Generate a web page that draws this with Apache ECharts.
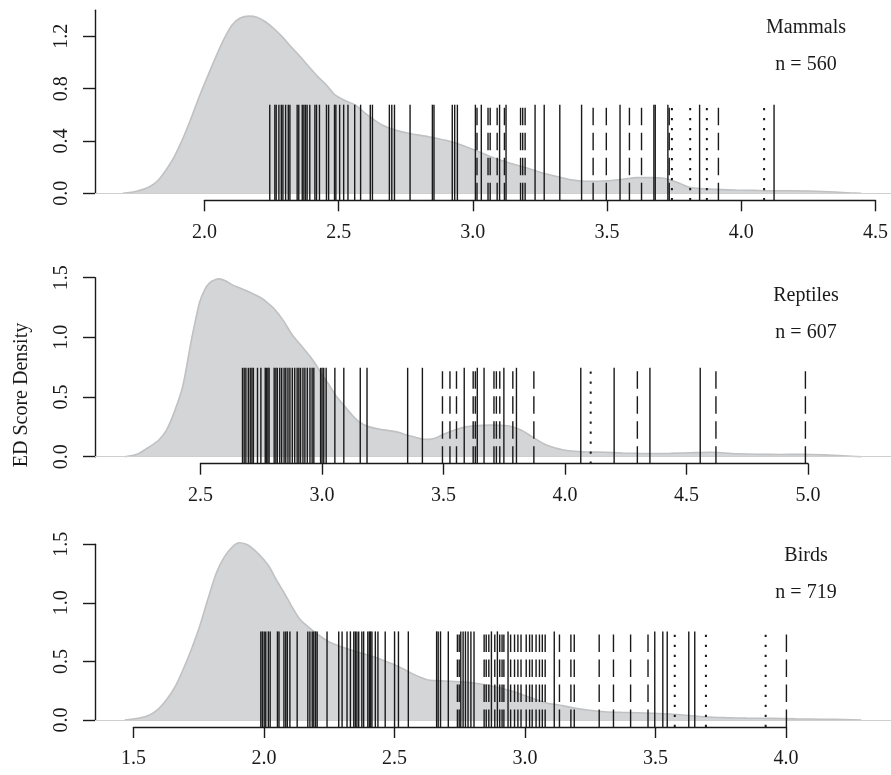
<!DOCTYPE html>
<html><head><meta charset="utf-8">
<script src="https://cdn.jsdelivr.net/npm/echarts@6/dist/echarts.min.js"></script>
<style>html,body{margin:0;padding:0;background:#fff}#c{width:891px;height:775px}</style>
</head><body><div id="c"></div>
<script>
// ---------------- DATA ----------------
const groupNames = ['Mammals', 'Reptiles', 'Birds'];
const groupCounts = ['n = 560', 'n = 607', 'n = 719'];

// density curves (ED score, density)
const mammalDensX = [1.698,1.75,1.798,1.83,1.86,1.89,1.92,1.95,1.983,2.015,2.045,2.075,2.105,2.135,2.168,2.2,2.23,2.26,2.29,2.32,2.353,2.39,2.42,2.455,2.489,2.525,2.563,2.595,2.625,2.665,2.711,2.77,2.835,2.9,2.958,3.02,3.081,3.14,3.205,3.26,3.316,3.36,3.402,3.45,3.489,3.55,3.612,3.66,3.711,3.76,3.8,3.834,3.9,3.982,4.05,4.104,4.18,4.25,4.35,4.4,4.445];
const mammalDensY = [0,0.015,0.05,0.1,0.18,0.28,0.41,0.56,0.74,0.9,1.045,1.18,1.287,1.34,1.355,1.345,1.31,1.26,1.2,1.13,1.057,0.97,0.9,0.83,0.75,0.71,0.675,0.62,0.573,0.52,0.484,0.455,0.433,0.405,0.369,0.32,0.268,0.23,0.191,0.155,0.127,0.105,0.094,0.092,0.094,0.105,0.12,0.12,0.115,0.084,0.05,0.038,0.03,0.025,0.022,0.02,0.02,0.018,0.01,0.004,0];

const reptileDensX = [2.189,2.24,2.292,2.33,2.361,2.395,2.429,2.464,2.498,2.52,2.539,2.56,2.58,2.605,2.634,2.67,2.704,2.745,2.78,2.807,2.845,2.882,2.915,2.951,2.98,3.005,3.035,3.06,3.095,3.129,3.16,3.197,3.25,3.307,3.36,3.417,3.445,3.472,3.51,3.554,3.6,3.637,3.7,3.774,3.8,3.828,3.856,3.884,3.93,3.966,4.0,4.034,4.1,4.172,4.25,4.309,4.38,4.446,4.53,4.61,4.66,4.72,4.8,4.9,4.995,5.08,5.16,5.235];
const reptileDensY = [0,0.02,0.084,0.14,0.22,0.38,0.59,0.97,1.29,1.4,1.455,1.48,1.49,1.475,1.44,1.41,1.38,1.34,1.29,1.24,1.14,1.02,0.94,0.852,0.77,0.685,0.6,0.517,0.43,0.35,0.29,0.252,0.228,0.21,0.18,0.148,0.145,0.154,0.19,0.224,0.25,0.26,0.265,0.26,0.245,0.224,0.19,0.154,0.1,0.075,0.058,0.048,0.04,0.037,0.031,0.028,0.027,0.028,0.033,0.037,0.033,0.025,0.02,0.019,0.02,0.015,0.008,0];

const birdDensX = [1.467,1.52,1.563,1.595,1.627,1.66,1.691,1.723,1.755,1.787,1.819,1.85,1.882,1.908,1.935,1.959,1.99,2.023,2.05,2.08,2.11,2.144,2.189,2.22,2.253,2.317,2.38,2.444,2.508,2.54,2.572,2.605,2.636,2.7,2.764,2.83,2.892,2.96,3.019,3.057,3.1,3.134,3.185,3.25,3.313,3.38,3.44,3.5,3.568,3.63,3.696,3.78,3.86,3.951,4.05,4.15,4.24,4.303];
const birdDensY = [0,0.015,0.043,0.09,0.17,0.28,0.427,0.6,0.796,1.03,1.25,1.39,1.479,1.513,1.5,1.465,1.4,1.31,1.2,1.09,0.97,0.853,0.768,0.715,0.668,0.612,0.569,0.526,0.469,0.435,0.398,0.365,0.341,0.333,0.327,0.31,0.284,0.245,0.199,0.17,0.14,0.13,0.108,0.085,0.071,0.065,0.062,0.058,0.051,0.04,0.028,0.02,0.016,0.014,0.01,0.007,0.003,0];

// rug values (ED scores) by line type
const mammalSolid = [2.245,2.264,2.269,2.279,2.288,2.294,2.304,2.314,2.32,2.347,2.353,2.366,2.372,2.378,2.384,2.394,2.413,2.419,2.43,2.456,2.464,2.486,2.491,2.505,2.52,2.536,2.561,2.583,2.619,2.627,2.69,2.699,2.709,2.767,2.85,2.856,2.924,2.933,2.943,3.01,3.032,3.1,3.124,3.232,3.266,3.324,3.405,3.548,3.674,3.679,3.726,3.844,4.121];
const mammalDashed = [3.016,3.057,3.065,3.091,3.118,3.178,3.186,3.195,3.448,3.497,3.583,3.628,3.731,3.914];
const mammalDotted = [3.741,3.809,3.871,4.084];

const reptileSolid = [2.676,2.683,2.69,2.7,2.708,2.715,2.721,2.738,2.752,2.77,2.775,2.781,2.786,2.807,2.814,2.82,2.83,2.838,2.848,2.855,2.864,2.872,2.882,2.892,2.902,2.909,2.916,2.926,2.934,2.944,2.955,2.964,2.971,2.999,3.005,3.012,3.022,3.058,3.095,3.163,3.191,3.359,3.42,3.593,3.647,3.675,3.757,3.809,4.075,4.213,4.361,4.569];
const reptileDashed = [3.503,3.534,3.561,3.63,3.639,3.716,3.726,3.74,3.794,3.881,4.309,4.634,5.004];
const reptileDotted = [4.116];

const birdSolid = [1.991,1.997,2.004,2.01,2.02,2.027,2.055,2.061,2.08,2.087,2.093,2.103,2.131,2.172,2.18,2.189,2.195,2.202,2.208,2.246,2.291,2.304,2.323,2.336,2.349,2.355,2.361,2.368,2.38,2.387,2.403,2.409,2.414,2.419,2.432,2.442,2.47,2.506,2.521,2.559,2.668,2.674,2.683,2.713,2.761,2.77,2.779,2.789,2.8,2.812,2.879,2.902,2.943,3.121,3.508,3.539,3.556,3.639,3.662];
const birdDashed = [2.748,2.755,2.851,2.859,2.869,2.892,2.911,2.92,2.927,2.953,2.968,2.981,2.993,3.013,3.026,3.036,3.051,3.064,3.075,3.086,3.141,3.185,3.198,3.294,3.349,3.415,3.482,4.015];
const birdDotted = [3.585,3.705,3.935];

// axis ticks
const mammalXTicks = [2.0,2.5,3.0,3.5,4.0,4.5];
const reptileXTicks = [2.5,3.0,3.5,4.0,4.5,5.0];
const birdXTicks = [1.5,2.0,2.5,3.0,3.5,4.0];
const mammalYTicks = [0,0.4,0.8,1.2];
const reptileYTicks = [0,0.5,1.0,1.5];
const birdYTicks = [0,0.5,1.0,1.5];

// ---------------- LAYOUT / STYLE ----------------
const FONT = '"Liberation Serif","Times New Roman",serif';
const INK = '#1a1a1a';
const PLOT_LEFT = 95, PLOT_WIDTH = 800, AXIS_GAP = 7;
const panels = [
  {densX: mammalDensX, densY: mammalDensY, solid: mammalSolid, dashed: mammalDashed, dotted: mammalDotted,
   xTicks: mammalXTicks, yTicks: mammalYTicks, xlim: [1.595, 4.556], ymax: 1.4, yInt: 0.4, top: 10.2, height: 183.1, labelY: 28},
  {densX: reptileDensX, densY: reptileDensY, solid: reptileSolid, dashed: reptileDashed, dotted: reptileDotted,
   xTicks: reptileXTicks, yTicks: reptileYTicks, xlim: [2.066, 5.358], ymax: 1.5, yInt: 0.5, top: 277.7, height: 179, labelY: 296},
  {densX: birdDensX, densY: birdDensY, solid: birdSolid, dashed: birdDashed, dotted: birdDotted,
   xTicks: birdXTicks, yTicks: birdYTicks, xlim: [1.3525, 4.4177], ymax: 1.5, yInt: 0.5, top: 544.3, height: 175.7, labelY: 556}
];

const grid = [], xAxis = [], yAxis = [], series = [], graphic = [];
const axisLineStyle = {color: INK, width: 1.4};
const labelStyle = {fontFamily: FONT, fontSize: 20, color: INK};

panels.forEach((p, i) => {
  const a = 2 * i, b = 2 * i + 1;
  const span = p.xlim[1] - p.xlim[0];
  const x0 = p.xTicks[0], x1 = p.xTicks[p.xTicks.length - 1];
  grid.push({left: PLOT_LEFT, width: PLOT_WIDTH, top: p.top, height: p.height});
  const axisY = p.top + p.height + AXIS_GAP;
  grid.push({left: PLOT_LEFT + (x0 - p.xlim[0]) / span * PLOT_WIDTH,
             width: (x1 - x0) / span * PLOT_WIDTH, top: axisY - 10, height: 10});
  xAxis.push({gridIndex: a, type: 'value', min: p.xlim[0], max: p.xlim[1], show: false});
  yAxis.push({gridIndex: a, type: 'value', min: 0, max: p.ymax, interval: p.yInt,
    axisLine: {show: true, lineStyle: axisLineStyle},
    axisTick: {show: true, length: 12, lineStyle: axisLineStyle, customValues: p.yTicks},
    axisLabel: Object.assign({rotate: 90, margin: 23, customValues: p.yTicks,
      formatter: v => Number(v).toFixed(1)}, labelStyle),
    splitLine: {show: false}});
  xAxis.push({gridIndex: b, type: 'value', min: x0, max: x1, interval: 0.5, position: 'bottom',
    axisLine: {show: true, onZero: false, lineStyle: axisLineStyle},
    axisTick: {show: true, length: 11, lineStyle: axisLineStyle},
    axisLabel: Object.assign({margin: 22, formatter: v => Number(v).toFixed(1)}, labelStyle),
    splitLine: {show: false}});
  yAxis.push({gridIndex: b, type: 'value', min: 0, max: 1, show: false});

  const dens = p.densX.map((x, k) => [x, p.densY[k]]);
  series.push({type: 'line', xAxisIndex: a, yAxisIndex: a, data: dens, showSymbol: false, smooth: 0.25,
    clip: false, z: 1, silent: true,
    lineStyle: {color: '#c0c1c3', width: 1.6},
    areaStyle: {color: '#d4d5d7', opacity: 1},
    markLine: {silent: true, symbol: ['none', 'none'], label: {show: false},
      lineStyle: {color: '#cfcfcf', width: 1.2, type: 'solid'}, data: [{yAxis: 0}]}});

  const rugTop = Math.max.apply(null, p.densY) / 2;
  const rug = p.solid.map(v => [v, 0]).concat(p.dashed.map(v => [v, 1]), p.dotted.map(v => [v, 2]));
  series.push({type: 'custom', xAxisIndex: a, yAxisIndex: a, data: rug, z: 5, silent: true,
    encode: {x: 0},
    renderItem: (params, api) => {
      const x = api.value(0), t = api.value(1);
      const pb = api.coord([x, 0]), pt = api.coord([x, rugTop]);
      const style = {stroke: INK, lineWidth: 1.4, fill: null};
      if (t === 1) { style.lineDash = [17.5, 7.5]; }
      if (t === 2) { style.lineDash = [2.2, 7.8]; style.lineWidth = 2; }
      return {type: 'line', shape: {x1: pb[0], y1: pb[1] + AXIS_GAP, x2: pt[0], y2: pt[1]}, style: style};
    }});

  graphic.push({type: 'text', x: 806, y: p.labelY, style: {text: groupNames[i], fontFamily: FONT, fontSize: 20,
    fill: INK, align: 'center', verticalAlign: 'middle'}});
  graphic.push({type: 'text', x: 806, y: p.labelY + 37, style: {text: groupCounts[i], fontFamily: FONT, fontSize: 20,
    fill: INK, align: 'center', verticalAlign: 'middle'}});
});

graphic.push({type: 'text', x: 22, y: 395, rotation: Math.PI / 2, style: {text: 'ED Score Density', fontFamily: FONT,
  fontSize: 20, fill: INK, align: 'center', verticalAlign: 'middle'}});

const chart = echarts.init(document.getElementById('c'), null, {renderer: 'canvas'});
chart.setOption({animation: false, backgroundColor: '#fff', grid, xAxis, yAxis, series, graphic});
</script>
</body></html>
